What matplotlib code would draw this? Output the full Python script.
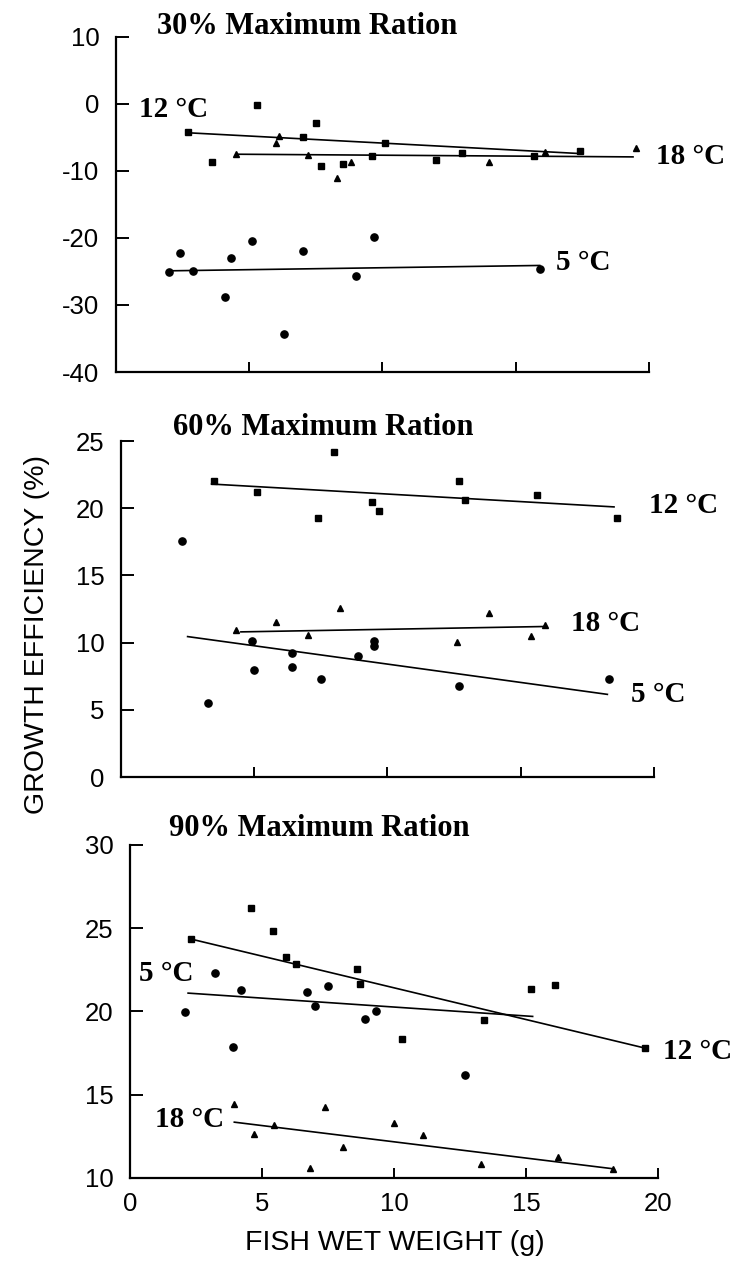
import matplotlib
matplotlib.use("Agg")
import matplotlib.pyplot as plt

plt.rcParams["font.family"] = ["Liberation Sans", "DejaVu Sans"]
plt.rcParams["axes.unicode_minus"] = False

SERIF = ["Liberation Serif", "DejaVu Serif"]

# ---- 30% maximum ration ----
R30_12_X = [2.7, 5.3, 3.6, 7.5, 7.0, 7.7, 8.5, 9.6, 10.1, 12.0, 13.0, 15.7, 17.4]
R30_12_Y = [-4.2, -0.2, -8.6, -2.8, -5.0, -9.2, -8.9, -7.8, -5.9, -8.3, -7.3, -7.7, -7.0]
R30_18_X = [4.5, 6.0, 6.1, 7.2, 8.3, 8.8, 14.0, 16.1, 19.5]
R30_18_Y = [-7.4, -5.9, -4.8, -7.6, -11.1, -8.6, -8.7, -7.1, -6.5]
R30_5_X = [2.0, 2.4, 2.9, 4.1, 4.3, 5.1, 6.3, 7.0, 9.0, 9.7, 15.9]
R30_5_Y = [-25.1, -22.2, -24.9, -28.8, -23.0, -20.4, -34.4, -22.0, -25.7, -19.8, -24.6]
R30_FIT = {
    "12": ([2.7, 17.4], [-4.3, -7.4]),
    "18": ([4.5, 19.4], [-7.5, -7.9]),
    "5": ([2.0, 15.9], [-24.9, -24.1]),
}

# ---- 60% maximum ration ----
R60_12_X = [3.5, 5.1, 8.0, 7.4, 9.4, 9.7, 12.7, 12.9, 15.6, 18.6]
R60_12_Y = [22.0, 21.2, 24.2, 19.3, 20.45, 19.8, 22.0, 20.65, 21.0, 19.3]
R60_18_X = [4.3, 5.8, 8.2, 7.0, 12.6, 13.8, 15.4, 15.9]
R60_18_Y = [10.95, 11.5, 12.6, 10.6, 10.05, 12.2, 10.5, 11.3]
R60_5_X = [2.3, 3.25, 4.9, 5.0, 6.4, 6.4, 7.5, 8.9, 9.5, 9.5, 12.7, 18.3]
R60_5_Y = [17.6, 5.5, 10.1, 8.0, 9.25, 8.2, 7.3, 9.0, 10.1, 9.75, 6.8, 7.3]
R60_FIT = {
    "12": ([3.4, 18.5], [21.8, 20.1]),
    "18": ([4.5, 15.9], [10.8, 11.2]),
    "5": ([2.5, 18.25], [10.45, 6.15]),
}

# ---- 90% maximum ration ----
R90_12_X = [2.3, 4.6, 5.4, 5.9, 6.3, 8.6, 8.7, 10.3, 13.4, 15.2, 16.1, 19.5]
R90_12_Y = [24.35, 26.2, 24.85, 23.25, 22.85, 22.55, 21.65, 18.35, 19.5, 21.35, 21.6, 17.8]
R90_5_X = [2.1, 3.2, 4.2, 3.9, 6.7, 7.0, 7.5, 8.9, 9.3, 12.7]
R90_5_Y = [19.95, 22.3, 21.3, 17.85, 21.15, 20.35, 21.5, 19.55, 20.05, 16.2]
R90_18_X = [3.95, 4.7, 5.45, 7.4, 8.05, 6.8, 10.0, 11.1, 13.3, 16.2, 18.3]
R90_18_Y = [14.45, 12.65, 13.15, 14.25, 11.85, 10.6, 13.3, 12.6, 10.85, 11.25, 10.55]
R90_FIT = {
    "12": ([2.3, 19.5], [24.35, 17.8]),
    "5": ([2.2, 15.25], [21.1, 19.7]),
    "18": ([3.95, 18.3], [13.35, 10.55]),
}

X_TICKS = [0, 5, 10, 15, 20]

PANELS = [
    {
        "title": "30% Maximum Ration",
        "rect": [0.1578, 0.708, 0.7252, 0.263],
        "ylim": (-40, 10),
        "yticks": [-40, -30, -20, -10, 0, 10],
        "series": {"12": (R30_12_X, R30_12_Y), "18": (R30_18_X, R30_18_Y), "5": (R30_5_X, R30_5_Y)},
        "fits": R30_FIT,
        "labels": [("12 °C", 0.85, -0.8), ("18 °C", 20.25, -7.9), ("5 °C", 16.5, -23.6)],
        "title_xy": (1.54, 11.5),
        "xticklabels": False,
    },
    {
        "title": "60% Maximum Ration",
        "rect": [0.1646, 0.3901, 0.7252, 0.2637],
        "ylim": (0, 25),
        "yticks": [0, 5, 10, 15, 20, 25],
        "series": {"12": (R60_12_X, R60_12_Y), "18": (R60_18_X, R60_18_Y), "5": (R60_5_X, R60_5_Y)},
        "fits": R60_FIT,
        "labels": [("12 °C", 19.8, 20.2), ("18 °C", 16.9, 11.4), ("5 °C", 19.15, 6.15)],
        "title_xy": (1.95, 26.0),
        "xticklabels": False,
    },
    {
        "title": "90% Maximum Ration",
        "rect": [0.1769, 0.0754, 0.7184, 0.2614],
        "ylim": (10, 30),
        "yticks": [10, 15, 20, 25, 30],
        "series": {"12": (R90_12_X, R90_12_Y), "18": (R90_18_X, R90_18_Y), "5": (R90_5_X, R90_5_Y)},
        "fits": R90_FIT,
        "labels": [("5 °C", 0.34, 22.3), ("18 °C", 0.93, 13.5), ("12 °C", 20.2, 17.6)],
        "title_xy": (1.48, 31.0),
        "xticklabels": True,
    },
]

MARKERS = {"12": ("s", 4.6), "18": ("^", 4.6), "5": ("o", 5.2)}

fig = plt.figure(figsize=(7.35, 12.74), dpi=100)

for panel in PANELS:
    ax = fig.add_axes(panel["rect"])
    for key, (xs, ys) in panel["series"].items():
        marker, size = MARKERS[key]
        ax.plot(xs, ys, linestyle="none", marker=marker, markersize=size,
                color="black", clip_on=False)
    for key, (fx, fy) in panel["fits"].items():
        ax.plot(fx, fy, color="black", linewidth=1.2)
    for text, tx, ty in panel["labels"]:
        ax.text(tx, ty, text, ha="left", va="center", fontsize=21,
                fontweight="bold", family=SERIF, clip_on=False)
    ax.text(panel["title_xy"][0], panel["title_xy"][1], panel["title"],
            ha="left", va="center", fontsize=22, fontweight="bold",
            family=SERIF, clip_on=False)

    ax.set_xlim(0, 20)
    ax.set_ylim(*panel["ylim"])
    ax.set_xticks(X_TICKS)
    ax.set_yticks(panel["yticks"])
    if not panel["xticklabels"]:
        ax.set_xticklabels([])
    for side in ("top", "right"):
        ax.spines[side].set_visible(False)
    for side in ("left", "bottom"):
        ax.spines[side].set_linewidth(1.6)
    ax.tick_params(axis="both", direction="in", width=1.4, labelsize=18.5)
    ax.tick_params(axis="y", length=9, pad=12)
    ax.tick_params(axis="x", length=7, pad=10)

fig.text(37 / 735, 1 - 635 / 1274, "GROWTH EFFICIENCY (%)", rotation=90,
         ha="center", va="center", fontsize=20.5)
fig.text(395 / 735, 1 - 1243 / 1274, "FISH WET WEIGHT (g)",
         ha="center", va="center", fontsize=20.5)

fig.savefig("out.png", dpi=100)
